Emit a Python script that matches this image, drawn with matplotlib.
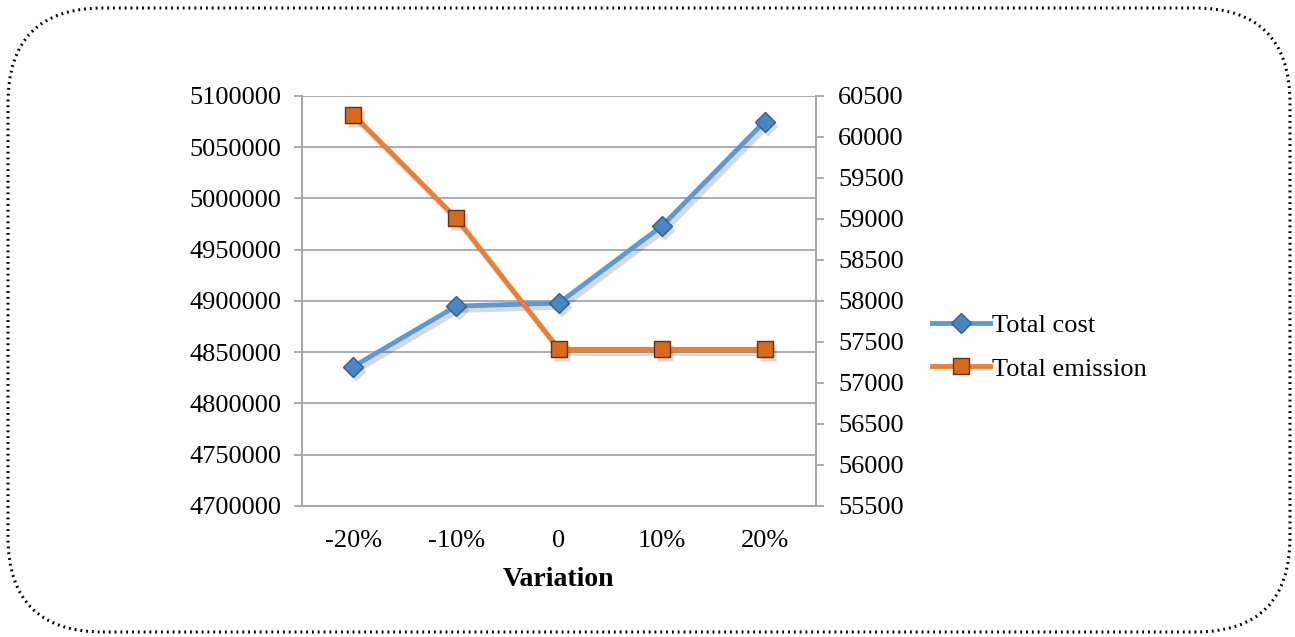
import matplotlib
matplotlib.use("Agg")
import matplotlib.pyplot as plt
from matplotlib.transforms import offset_copy
from matplotlib.patches import FancyBboxPatch

variation = ["-20%", "-10%", "0", "10%", "20%"]
total_cost = [4836000, 4895000, 4898000, 4973000, 5075000]
total_emission = [60270, 59010, 57410, 57410, 57410]

cost_ticks = list(range(4700000, 5100001, 50000))
emission_ticks = list(range(55500, 60501, 500))

plt.rcParams['font.family'] = ['Liberation Serif', 'DejaVu Serif']
fs = 19
blue = "#5B9BD5"
orange = "#ED7D31"
grid_c = "#A6A6A6"

fig = plt.figure(figsize=(12.95, 6.37), dpi=100)

# rounded dotted frame round the whole chart (inch units keep the corners round)
frame = FancyBboxPatch((0.08, 0.05), 12.82, 6.24,
                       boxstyle="round,pad=0,rounding_size=0.95",
                       transform=fig.dpi_scale_trans, fill=False,
                       ec="black", lw=2.2, ls=(0, (0.6, 1.3)))
fig.patches.append(frame)

ax = fig.add_axes([0.2332, 0.2057, 0.3969, 0.6436])
ax2 = ax.twinx()

x = list(range(len(variation)))

# soft drop shadows under both series
sh1 = offset_copy(ax.transData, fig=fig, x=3, y=-4, units="dots")
sh2 = offset_copy(ax2.transData, fig=fig, x=3, y=-4, units="dots")
ax.plot(x, total_cost, color="black", alpha=0.15, lw=4, marker="D", ms=10,
        mec="none", transform=sh1, zorder=2)
ax2.plot(x, total_emission, color="black", alpha=0.15, lw=4, marker="s", ms=12,
         mec="none", transform=sh2, zorder=2)

l1, = ax.plot(x, total_cost, color=blue, lw=3.5, marker="D", ms=10,
              mfc="#4A86C0", mec="#2E5F8E", mew=1,
              label="Total cost", zorder=3)
l2, = ax2.plot(x, total_emission, color=orange, lw=3.5, marker="s", ms=12,
               mfc="#D66A1E", mec="#6B2F08", mew=1,
               label="Total emission", zorder=3)

ax.set_xlim(-0.5, len(variation) - 0.5)
ax.set_ylim(cost_ticks[0], cost_ticks[-1])
ax.set_yticks(cost_ticks)
ax.set_yticklabels([str(v) for v in cost_ticks])
ax2.set_ylim(emission_ticks[0], emission_ticks[-1])
ax2.set_yticks(emission_ticks)
ax2.set_yticklabels([str(v) for v in emission_ticks])

ax.set_xticks(x)
ax.set_xticklabels(variation)
ax.tick_params(axis="x", length=0, labelsize=fs, pad=17)
ax.tick_params(axis="y", length=6, width=1.3, color=grid_c, labelsize=fs, pad=9)
ax2.tick_params(axis="y", length=6, width=1.3, color=grid_c, labelsize=fs, pad=10)

ax.grid(axis="y", color=grid_c, lw=1.3)
ax.set_axisbelow(True)
for a in (ax, ax2):
    a.spines["top"].set_visible(False)
    for s in ("left", "right", "bottom"):
        a.spines[s].set_color(grid_c)
        a.spines[s].set_linewidth(1.3)

ax.set_xlabel("Variation", fontsize=fs + 1, fontweight="bold", labelpad=11)

fig.legend([l1, l2], ["Total cost", "Total emission"], loc="center left",
           bbox_to_anchor=(0.701, 0.455), frameon=False, fontsize=fs,
           handlelength=2.2, handletextpad=0.1, labelspacing=0.75)

fig.savefig("out.png", dpi=100)
